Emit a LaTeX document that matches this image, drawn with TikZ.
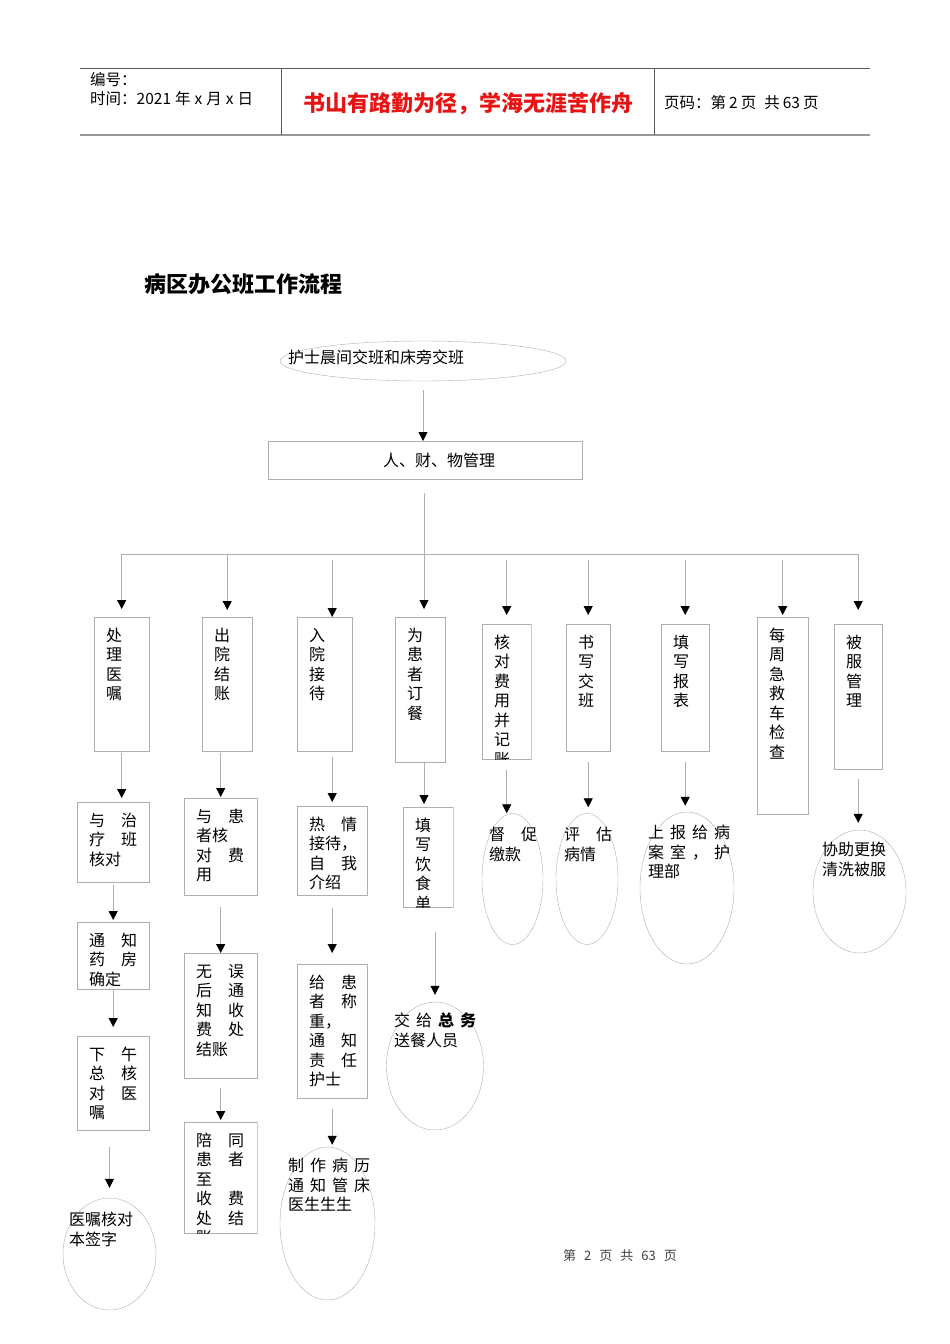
\documentclass[tikz,border=0pt]{standalone}
\usepackage{fontspec}
\setmainfont{Noto Sans CJK SC}
\usetikzlibrary{positioning, arrows.meta, shapes.geometric}
\definecolor{linegray}{RGB}{175,175,175}
\definecolor{rulegray}{RGB}{90,90,90}
\definecolor{mottored}{RGB}{230,20,20}
\newcommand{\bodyfont}{\fontsize{16}{19.5}\selectfont}
\newcommand{\colgap}{\kern1em\relax}
\newcommand{\cgap}{\kern6pt\relax}

\begin{document}
\begin{tikzpicture}[x=1pt, y=-1pt,
    box/.style={draw=linegray, anchor=north west, inner xsep=12pt, inner ysep=0pt,
                align=left, text height=24pt, font=\bodyfont},
    ell/.style={draw=linegray, ellipse, inner sep=0pt},
    etxt/.style={anchor=north west, inner sep=0pt, text width=110pt, align=left,
                 text height=13.5pt, font=\bodyfont},
    hdr/.style={anchor=west, inner sep=0pt, font=\fontsize{15.5}{18}\selectfont},
    conn/.style={draw=linegray, line width=0.8pt},
    arr/.style={conn, -{Triangle[length=9pt, width=9pt, color=black]}}]
  \useasboundingbox (0,0) rectangle (950,1344);

  % kopf
  \draw[rulegray, line width=0.8pt] (80,68) -- (870,68);
  \draw[black!40, line width=2pt] (80,135) -- (870,135);
  \draw[rulegray, line width=0.8pt] (281,68) -- (281,135);
  \draw[rulegray, line width=0.8pt] (654,68) -- (654,135);
  \node[hdr] (num) at (90,80) {编号：};
  \node[hdr] (date) at (90,99) {时间：2021\kern4pt 年\kern4pt x\kern4pt 月\kern4pt x\kern4pt 日};
  \node[inner sep=0pt, font=\fontsize{22}{26}\selectfont\bfseries, text=mottored] (motto) at (468,104) {书山有路勤为径，学海无涯苦作舟};
  \node[hdr] (page) at (664,103) {页码：第\kern3pt 2\kern3pt 页\kern8pt 共\kern3pt 63\kern3pt 页};
  \node[anchor=west, inner sep=0pt, font=\fontsize{22}{26}\selectfont\bfseries] (title) at (144,284) {病区办公班工作流程};

  % oben
  \node[ell, minimum width=286pt, minimum height=40pt] (e0) at (423,361) {};
  \node[etxt, text width=200pt] (e0t) at (288,350) {护士晨间交班和床旁交班};
  \node[draw=linegray, anchor=north west, inner sep=0pt, minimum width=314pt,
        minimum height=38pt, font=\bodyfont] (mgr) at (268,441) {\hspace*{28pt}人、财、物管理};
  \coordinate (bus) at (424,554);

  % erste reihe
  \node[box, text width=31pt, text depth=110pt] (b1) at (94,617) {处\\理\\医\\嘱};
  \node[box, text width=26pt, text depth=110pt] (b2) at (202,617) {出\\院\\结\\账};
  \node[box, text width=31pt, text depth=110pt] (b3) at (297,617) {入\\院\\接\\待};
  \node[box, text width=26pt, text depth=121pt] (b4) at (395,617) {为\\患\\者\\订\\餐};
  \begin{scope}
    \clip (481.5,623.5) rectangle (531.5,759.5);
    \node[box, text width=25pt, text depth=111pt] (b5) at (482,624) {核\\对\\费\\用\\并\\记\\账};
  \end{scope}
  \node[box, text width=20pt, text depth=103pt] (b6) at (566,624) {书\\写\\交\\班};
  \node[box, text width=24pt, text depth=103pt] (b7) at (661,624) {填\\写\\报\\表};
  \node[box, text width=27pt, text depth=173pt] (b8) at (757,617) {每\\周\\急\\救\\车\\检\\查};
  \node[box, text width=24pt, text depth=121pt] (b9) at (834,624) {被\\服\\管\\理};

  % zweite reihe
  \node[box, text width=48pt, text depth=56pt] (c11) at (77,802) {与\colgap 治\\疗\colgap 班\\核对};
  \node[box, text width=48pt, text depth=43pt] (c12) at (77,922) {通\colgap 知\\药\colgap 房\\确定};
  \node[box, text width=48pt, text depth=70pt] (c13) at (77,1036) {下\colgap 午\\总\colgap 核\\对\colgap 医\\嘱};
  \node[box, text width=49pt, text depth=73pt] (c21) at (184,798) {与\colgap 患\\者核\\对\colgap 费\\用};
  \node[box, text width=49pt, text depth=101pt] (c22) at (184,953) {无\colgap 误\\后\colgap 通\\知\colgap 收\\费\colgap 处\\结账};
  \begin{scope}
    \clip (183.5,1121.5) rectangle (257.5,1233.5);
    \node[box, text width=49pt, text depth=87pt] (c23) at (184,1122) {陪\colgap 同\\患\colgap 者\\至\\收\colgap 费\\处\colgap 结\\账};
  \end{scope}
  \node[box, text width=46pt, text depth=65pt] (c31) at (297,806) {热\colgap 情\\接待，\\自\colgap 我\\介绍};
  \node[box, text width=46pt, text depth=110pt] (c32) at (297,964) {给\colgap 患\\者\colgap 称\\重，\\通\colgap 知\\责\colgap 任\\护士};
  \begin{scope}
    \clip (402.5,806.5) rectangle (453.5,907.5);
    \node[box, text width=26pt, text depth=76pt] (c41) at (403,807) {填\\写\\饮\\食\\单};
  \end{scope}

  % ellipsen
  \node[ell, minimum width=93pt, minimum height=112pt] (e1) at (109.5,1254) {};
  \node[etxt] (e1t) at (69,1212) {医嘱核对\\本签字};
  \node[ell, minimum width=95pt, minimum height=153pt] (e3) at (327.5,1223.5) {};
  \node[etxt] (e3t) at (288,1158) {制\cgap 作\cgap 病\cgap 历\\通\cgap 知\cgap 管\cgap 床\\医生生生};
  \node[ell, minimum width=97pt, minimum height=128pt] (e4) at (435,1066) {};
  \node[etxt] (e4t) at (394,1013) {交\cgap 给\cgap {\bfseries 总}\cgap {\bfseries 务}\\送餐人员};
  \node[ell, minimum width=61pt, minimum height=131pt] (e5) at (512.5,879) {};
  \node[etxt] (e5t) at (489,827) {督\colgap 促\\缴款};
  \node[ell, minimum width=62pt, minimum height=131pt] (e6) at (587,879) {};
  \node[etxt] (e6t) at (564,827) {评\colgap 估\\病情};
  \node[ell, minimum width=94pt, minimum height=152pt] (e7) at (687,888) {};
  \node[etxt] (e7t) at (648,825) {上\cgap 报\cgap 给\cgap 病\\案\cgap 室\cgap ，\cgap 护\\理部};
  \node[ell, minimum width=93pt, minimum height=123pt] (e9) at (859.5,891.5) {};
  \node[etxt] (e9t) at (822,842) {协助更换\\清洗被服};

  \node[inner sep=0pt, font=\fontsize{13}{16}\selectfont, text=black!75] (foot) at (620,1256)
    {第\kern8pt 2\kern8pt 页\kern8pt 共\kern8pt 63\kern8pt 页};

  % pfeile
  \draw[arr, shorten <=9pt] (e0.south) -- (e0.south |- mgr.north);
  \draw[conn, shorten <=14pt] (bus |- mgr.south) -- (bus);
  \draw[conn] (bus -| b1.north) -- (bus -| b9.north);
  \draw[arr, shorten >=8pt] (bus -| b1.north) -- (b1.north);
  \draw[arr, shorten >=7pt] (bus -| b2.north) -- (b2.north);
  \draw[arr, shorten <=6pt] (bus -| c31.north) -- (c31.north |- b3.north);
  \draw[arr, shorten >=8pt] (bus) -- (bus |- b4.north);
  \draw[arr, shorten <=6pt, shorten >=9pt] (bus -| b5.north) -- (b5.north);
  \draw[arr, shorten <=6pt, shorten >=9pt] (bus -| b6.north) -- (b6.north);
  \draw[arr, shorten <=6pt, shorten >=9pt] (bus -| b7.north) -- (b7.north);
  \draw[arr, shorten <=6pt, shorten >=2pt] (bus -| b8.north) -- (b8.north);
  \draw[arr, shorten >=14pt] (bus -| b9.north) -- (b9.north);

  \draw[arr, shorten <=2pt, shorten >=4pt] (b1.south) -- (b1.south |- c11.north);
  \draw[arr, shorten <=3pt, shorten >=2pt] (c11.south) -- (c12.north);
  \draw[arr, shorten >=9pt] (c12.south) -- (c13.north);
  \draw[arr, shorten <=17pt, shorten >=10pt] (e1.north |- c13.south) -- (e1.north);
  \draw[arr, shorten <=2pt, shorten >=1pt] (c21.north |- b2.south) -- (c21.north);
  \draw[arr, shorten <=12pt] (c21.south) -- (c22.north);
  \draw[arr, shorten <=10pt, shorten >=2pt] (c22.south) -- (c23.north);
  \draw[arr, shorten <=6pt, shorten >=4pt] (c31.north |- b3.south) -- (c31.north);
  \draw[arr, shorten <=13pt, shorten >=11pt] (c31.south) -- (c32.north);
  \draw[arr, shorten <=11pt, shorten >=2pt] (c32.south) -- (c32.south |- e3.north);
  \draw[arr, shorten >=3pt] (bus |- b4.south) -- (bus |- c41.north);
  \draw[arr, shorten <=25pt, shorten >=7pt] (e4.north |- c41.south) -- (e4.north);
  \draw[arr, shorten <=11pt] (b5.south) -- (b5.south |- e5.north);
  \draw[arr, shorten <=11pt, shorten >=6pt] (b6.south) -- (b6.south |- e6.north);
  \draw[arr, shorten <=11pt, shorten >=6pt] (b7.south) -- (b7.south |- e7.north);
  \draw[arr, shorten <=10pt, shorten >=7pt] (b9.south) -- (b9.south |- e9.north);
\end{tikzpicture}
\end{document}
